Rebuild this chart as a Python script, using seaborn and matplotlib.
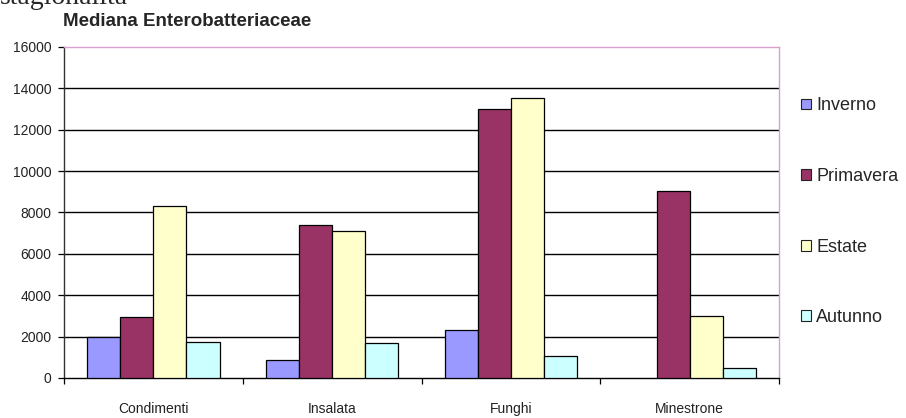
import pandas as pd
import matplotlib.pyplot as plt
import seaborn as sns

# --- Data ---
categorie = ["Condimenti", "Insalata", "Funghi", "Minestrone"]
stagioni  = ["Inverno", "Primavera", "Estate", "Autunno"]
inverno   = [1960, 870, 2330, 0]
primavera = [2970, 7390, 13000, 9020]
estate    = [8290, 7100, 13520, 3000]
autunno   = [1760, 1710, 1040, 470]
colori    = ["#9999FF", "#993366", "#FFFFCC", "#CCFFFF"]
yticks    = [0, 2000, 4000, 6000, 8000, 10000, 12000, 14000, 16000]

rows = []
for stag, vals in zip(stagioni, [inverno, primavera, estate, autunno]):
    for cat, v in zip(categorie, vals):
        rows.append({"categoria": cat, "stagione": stag, "valore": v})
df = pd.DataFrame(rows)

# --- Style ---
sns.set_style("white")
plt.rcParams["font.family"] = ["Liberation Sans", "DejaVu Sans"]

fig = plt.figure(figsize=(9.06, 4.18), dpi=100)
ax = fig.add_axes([0.0706, 0.0957, 0.7894, 0.7919])

sns.barplot(data=df, x="categoria", y="valore", hue="stagione",
            order=categorie, hue_order=stagioni, palette=colori,
            saturation=1, width=0.74, edgecolor="black", linewidth=0.9,
            errorbar=None, ax=ax, zorder=3)

# no outline for empty bars
for p in ax.patches:
    if p.get_height() == 0:
        p.set_linewidth(0)

# --- Axes ---
ax.set_ylim(0, 16000)
ax.set_xlim(-0.5, len(categorie) - 0.5)
ax.set_yticks(yticks)
ax.set_yticklabels([str(t) for t in yticks], fontsize=10, color="#222222")
ax.hlines(yticks[1:-1], -0.5, len(categorie) - 0.5, color="black",
          linewidth=1.0, zorder=1)

# category boundaries as ticks, labels in the middle
ax.set_xticks([i - 0.5 for i in range(len(categorie) + 1)])
ax.set_xticklabels([])
ax.set_xticks(range(len(categorie)), minor=True)
ax.set_xticklabels(categorie, minor=True, fontsize=10, color="#222222")
ax.tick_params(axis="x", which="minor", length=0, pad=17)
ax.tick_params(axis="x", which="major", direction="out", length=4,
               width=0.9, color="black", bottom=True)
ax.tick_params(axis="y", direction="out", length=4, width=0.9,
               color="black", left=True, pad=5)
ax.set_xlabel("")
ax.set_ylabel("")

for side in ["top", "right"]:
    ax.spines[side].set_color("#D9A0CC")
    ax.spines[side].set_linewidth(1.0)
ax.spines["left"].set_color("#333333")
ax.spines["bottom"].set_color("black")
for side in ["left", "bottom"]:
    ax.spines[side].set_linewidth(1.0)

# --- Legend ---
handles, labels = ax.get_legend_handles_labels()
ax.legend_.remove()
leg = fig.legend(handles, labels, loc="upper left",
                 bbox_to_anchor=(0.884, 0.767), frameon=False, fontsize=13,
                 handlelength=0.55, handleheight=0.55, handletextpad=0.3,
                 labelspacing=2.97, borderpad=0, borderaxespad=0)
for h in leg.legend_handles:
    h.set_edgecolor("#222222")
    h.set_linewidth(0.8)

# --- Titles ---
fig.text(0.0, 1 - 4 / 418, "stagionalità", fontsize=20,
         family=["Liberation Serif", "DejaVu Serif"], va="baseline")
fig.text(0.069, 1 - 22 / 418, "Mediana Enterobatteriaceae", fontsize=13.5,
         fontweight="bold", va="center", ha="left")

fig.savefig("out.png", dpi=100)
